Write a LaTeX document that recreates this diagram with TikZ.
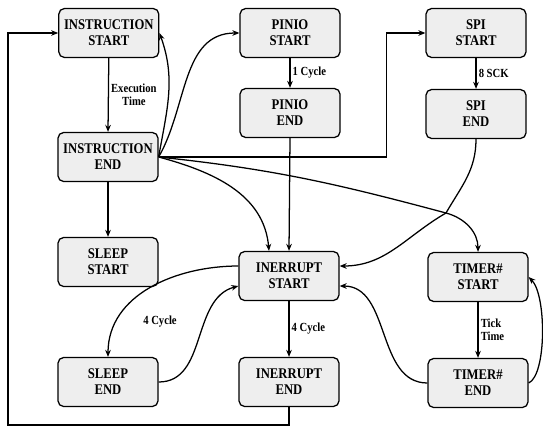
\documentclass[tikz,border=0pt]{standalone}
\usepackage{fontspec}
\setmainfont{Liberation Serif}
\newfontfamily\diagfont[FakeStretch=0.86]{Liberation Serif}
\usepackage{tikz}
\usetikzlibrary{arrows.meta,positioning,calc}

\begin{document}
\begin{tikzpicture}[
  statebox/.style={
    draw=black, line width=0.9pt, rounded corners=4pt, fill=gray!13,
    minimum height=1.225cm, minimum width=2.5cm, align=center,
    font=\diagfont\fontsize{10.5}{11.5}\selectfont\bfseries
  },
  arrow/.style={-{Stealth[length=5pt,width=4pt]}, line width=0.9pt},
  lbl/.style={font=\diagfont\fontsize{8.8}{9.4}\selectfont\bfseries, align=left, inner sep=1.5pt}
]
\useasboundingbox (0,0) rectangle (13.575,10.725);

\node[statebox] (istart) at (2.72,9.9) {INSTRUCTION\\START};
\node[statebox] (iend) at (2.7,6.8) {INSTRUCTION\\END};
\node[statebox] (slstart) at (2.7,4.175) {SLEEP\\START};
\node[statebox] (slend) at (2.7,1.175) {SLEEP\\END};
\node[statebox] (pstart) at (7.25,9.9) {PINIO\\START};
\node[statebox] (pend) at (7.25,7.9) {PINIO\\END};
\node[statebox] (irqstart) at (7.225,3.825) {INERRUPT\\START};
\node[statebox] (irqend) at (7.225,1.175) {INERRUPT\\END};
\node[statebox] (sstart) at (11.9,9.9) {SPI\\START};
\node[statebox] (send) at (11.9,7.875) {SPI\\END};
\node[statebox] (tstart) at (11.95,3.8) {TIMER\#\\START};
\node[statebox] (tend) at (11.95,1.15) {TIMER\#\\END};

\coordinate (meet) at (11.15,5.4);
\coordinate (loop) at (0.2,0.1);

% straight transitions
\draw[arrow] (istart.south) -- node[lbl, right, align=center] {Execution\\Time} (iend.north);
\draw[arrow] (pstart.south) -- node[lbl, right] {1 Cycle} (pend.north);
\draw[arrow] (sstart.south) -- node[lbl, right] {8 SCK} (send.north);
\draw[arrow] (irqstart.south) -- node[lbl, right] {4 Cycle} (irqend.north);
\draw[arrow] (tstart.south) -- node[lbl, right] {Tick\\Time} (tend.north);
\draw[arrow] (iend.south) -- (slstart.north);
\draw[arrow] (pend.south) -- (irqstart.north);

% out of instruction end
\draw[arrow] (iend.east) to[out=80,in=-70] (istart.east);
\draw[arrow] (iend.east) to[out=60,in=180] (pstart.west);
\draw[arrow] (iend.east) -- ++(5.7,0) |- (sstart.west);
\draw[arrow] (iend.east) to[out=-15,in=95] ([xshift=-0.5cm]irqstart.north);
\draw[arrow] (iend.east) to[out=-6,in=165] (meet) to[out=-15,in=90] (tstart.north);
\draw[arrow] (send.south) to[out=-90,in=60] (meet) to[out=210,in=0] ([yshift=0.25cm]irqstart.east);

% interrupt loops
\draw[arrow] ([yshift=0.25cm]irqstart.west) to[out=180,in=90] (slend.north);
\node[lbl] (slcyc) at (4.0,2.675) {4 Cycle};
\draw[arrow] (slend.east) to[out=0,in=195] ([yshift=-0.25cm]irqstart.west);
\draw[arrow] (tend.west) to[out=180,in=0] ([yshift=-0.25cm]irqstart.east);
\draw[arrow] (tend.east) .. controls +(0.45,0.2) and +(0.45,-0.45) .. (tstart.east);
\draw[arrow] (irqend.south) |- (loop) |- (istart.west);
\end{tikzpicture}
\end{document}
